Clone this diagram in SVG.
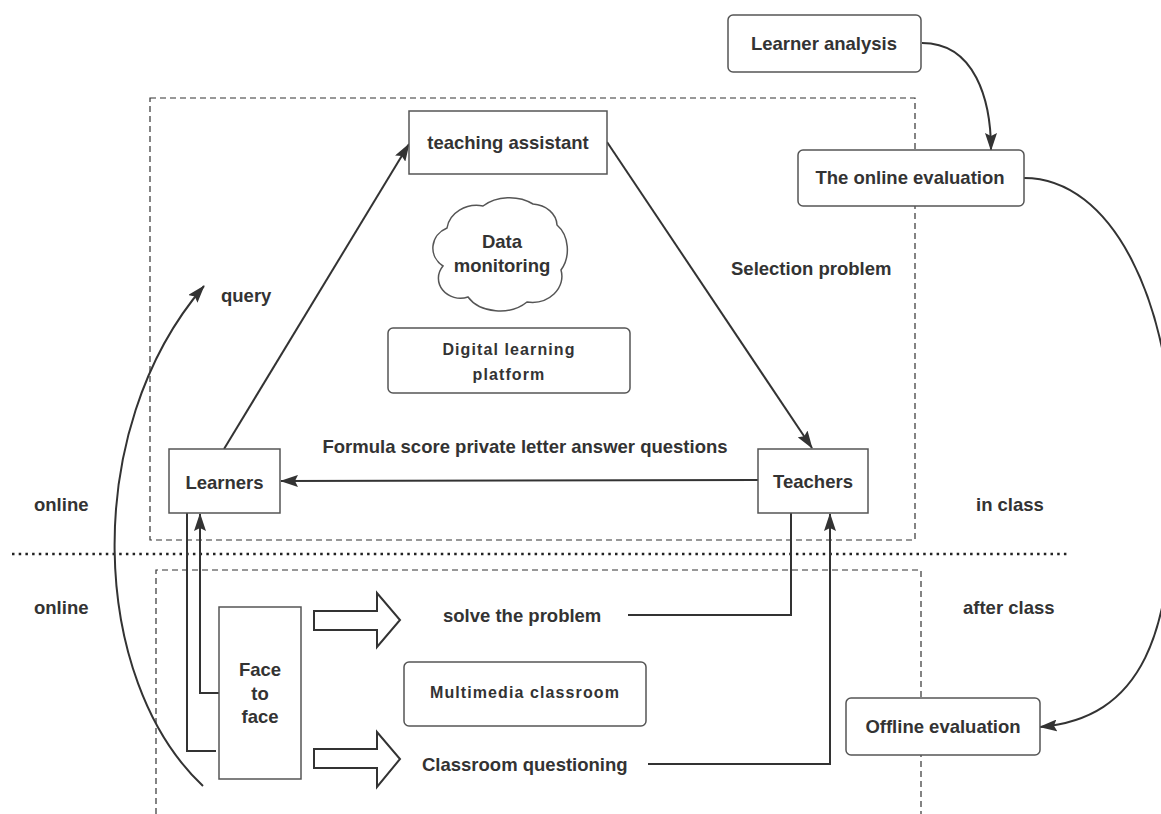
<svg xmlns="http://www.w3.org/2000/svg" width="1161" height="814" viewBox="0 0 1161 814">
<defs>
<style>
.t{font-family:"Liberation Sans",Arial,sans-serif;font-weight:bold;font-size:18.5px;fill:#333}
.s{font-family:"Liberation Sans",Arial,sans-serif;font-weight:bold;font-size:16px;letter-spacing:1.1px;fill:#333}
.box{fill:#fff;stroke:#555;stroke-width:1.5}
.dash{fill:none;stroke:#333;stroke-width:1.2;stroke-dasharray:6 4}
.dot{fill:none;stroke:#222;stroke-width:2.5;stroke-dasharray:2.5 4.2}
.c{fill:none;stroke:#333;stroke-width:2}
.blk{fill:#fff;stroke:#333;stroke-width:2;stroke-linejoin:miter}
</style>
<marker id="ah" viewBox="0 0 18 12" refX="17" refY="6" markerWidth="18" markerHeight="12" markerUnits="userSpaceOnUse" orient="auto">
<path d="M0,0 L18,6 L0,12 L3,6 Z" fill="#333"/>
</marker>
</defs>
<rect width="1161" height="814" fill="#fff"/>

<g id="regions">
<rect class="dash" x="150" y="98" width="765" height="442"/>
<path class="dash" d="M156,814 V570 H921 V814"/>
<path class="dot" d="M12,554 H1070"/>
</g>

<g id="labels">
<text class="t" x="221" y="302">query</text>
<text class="t" x="731" y="275">Selection problem</text>
<text class="t" x="525" y="453" text-anchor="middle">Formula score private letter answer questions</text>
<text class="t" x="34" y="511">online</text>
<text class="t" x="34" y="614">online</text>
<text class="t" x="976" y="511">in class</text>
<text class="t" x="963" y="614">after class</text>
<text class="t" x="443" y="622">solve the problem</text>
<text class="t" x="422" y="771">Classroom questioning</text>
</g>

<g id="connectors">
<path class="c" d="M922,43 C975,43 991,100 991,150" marker-end="url(#ah)"/>
<path class="c" d="M1024,178 C1112,178 1172,300 1174,460 C1176,640 1140,718 1040,727" marker-end="url(#ah)"/>
<path class="c" stroke-width="1.8" d="M203,786 C90,680 80,430 204,286" marker-end="url(#ah)"/>
<path class="c" d="M224,449 L409,144" marker-end="url(#ah)"/>
<path class="c" d="M607,142 L812,448" marker-end="url(#ah)"/>
<path class="c" d="M758,480 L281,481" marker-end="url(#ah)"/>
<path class="c" d="M187,513 V751 H216"/>
<path class="c" d="M219,693 H200 V514" marker-end="url(#ah)"/>
<path class="c" d="M628,615 H791 V513"/>
<path class="c" d="M648,764 H830 V514" marker-end="url(#ah)"/>
<polygon class="blk" points="314,611 377,611 377,593 400,620 377,647 377,630 314,630"/>
<polygon class="blk" points="314,749 377,749 377,732 400,759 377,787 377,768 314,768"/>
</g>

<g id="learner-analysis">
<rect class="box" x="728" y="15" width="193" height="57" rx="5"/>
<text class="t" x="824" y="50" text-anchor="middle">Learner analysis</text>
</g>
<g id="online-evaluation">
<rect class="box" x="798" y="150" width="226" height="56" rx="5"/>
<text class="t" x="910" y="184" text-anchor="middle">The online evaluation</text>
</g>
<g id="teaching-assistant">
<rect class="box" x="409" y="111" width="198" height="63"/>
<text class="t" x="508" y="149" text-anchor="middle">teaching assistant</text>
</g>
<g id="data-monitoring">
<path class="box" d="M447,228 A30,26 0 0 1 483,206 A36,26 0 0 1 533,204 A26,22 0 0 1 557,225 A24,30 0 0 1 561,270 A30,26 0 0 1 527,302 A36,26 0 0 1 468,297 A22,20 0 0 1 443,266 A24,22 0 0 1 447,228 Z"/>
<text class="t" x="502" y="248" text-anchor="middle">Data</text>
<text class="t" x="502" y="272" text-anchor="middle">monitoring</text>
</g>
<g id="digital-platform">
<rect class="box" x="388" y="328" width="242" height="65" rx="5"/>
<text class="s" x="509" y="355" text-anchor="middle">Digital learning</text>
<text class="s" x="509" y="380" text-anchor="middle">platform</text>
</g>
<g id="learners">
<rect class="box" x="169" y="449" width="111" height="64"/>
<text class="t" x="224.5" y="489" text-anchor="middle">Learners</text>
</g>
<g id="teachers">
<rect class="box" x="758" y="449" width="110" height="64"/>
<text class="t" x="813" y="488" text-anchor="middle">Teachers</text>
</g>
<g id="face-to-face">
<rect class="box" x="219" y="607" width="82" height="172"/>
<text class="t" x="260" y="676" text-anchor="middle">Face</text>
<text class="t" x="260" y="700" text-anchor="middle">to</text>
<text class="t" x="260" y="723" text-anchor="middle">face</text>
</g>
<g id="multimedia-classroom">
<rect class="box" x="404" y="662" width="242" height="64" rx="5"/>
<text class="s" x="525" y="698" text-anchor="middle">Multimedia classroom</text>
</g>
<g id="offline-evaluation">
<rect class="box" x="846" y="698" width="194" height="57" rx="5"/>
<text class="t" x="943" y="733" text-anchor="middle">Offline evaluation</text>
</g>
</svg>
